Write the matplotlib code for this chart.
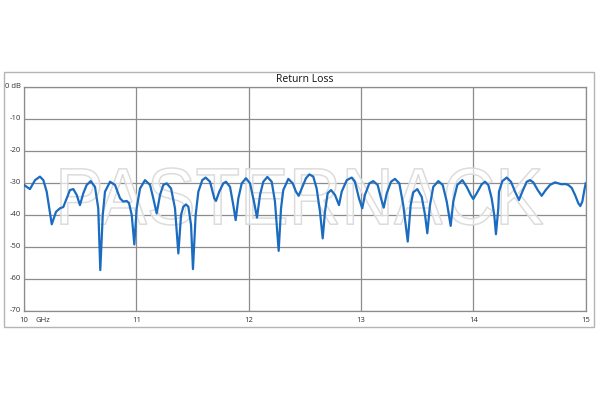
import matplotlib
matplotlib.use("Agg")
import matplotlib.pyplot as plt
from matplotlib.patches import Rectangle, PathPatch
from matplotlib.textpath import TextPath
from matplotlib.font_manager import FontProperties
from matplotlib.transforms import Affine2D, IdentityTransform

freq_ghz = [
    10.000, 10.053, 10.098, 10.142, 10.172, 10.202, 10.247, 10.285, 10.320, 10.350,
    10.380, 10.409, 10.439, 10.469, 10.498, 10.528, 10.558, 10.594, 10.632, 10.661,
    10.679, 10.701, 10.721, 10.766, 10.810, 10.855, 10.884, 10.914, 10.935, 10.959,
    10.982, 11.003, 11.033, 11.077, 11.122, 11.151, 11.181, 11.211, 11.240, 11.270,
    11.309, 11.344, 11.374, 11.398, 11.418, 11.442, 11.463, 11.487, 11.504, 11.528,
    11.552, 11.587, 11.617, 11.656, 11.694, 11.709, 11.738, 11.774, 11.798, 11.834,
    11.863, 11.884, 11.908, 11.938, 11.976, 12.012, 12.047, 12.074, 12.101, 12.130,
    12.166, 12.205, 12.234, 12.267, 12.288, 12.308, 12.353, 12.392, 12.421, 12.445,
    12.472, 12.510, 12.540, 12.575, 12.605, 12.635, 12.659, 12.679, 12.703, 12.733,
    12.768, 12.804, 12.828, 12.873, 12.917, 12.946, 12.982, 13.011, 13.035, 13.074,
    13.109, 13.148, 13.178, 13.202, 13.229, 13.267, 13.302, 13.341, 13.376, 13.416,
    13.442, 13.465, 13.501, 13.540, 13.570, 13.590, 13.614, 13.643, 13.688, 13.727,
    13.763, 13.798, 13.821, 13.857, 13.902, 13.941, 13.976, 13.999, 14.030, 14.074,
    14.104, 14.133, 14.163, 14.186, 14.201, 14.222, 14.228, 14.258, 14.297, 14.335,
    14.371, 14.406, 14.436, 14.475, 14.504, 14.534, 14.573, 14.608, 14.644, 14.682,
    14.727, 14.756, 14.786, 14.816, 14.845, 14.875, 14.905, 14.934, 14.952, 14.970,
    14.988, 15.000,
]
return_loss_db = [
    -30.7, -32.0, -29.2, -28.1, -29.2, -32.8, -43.0, -39.1, -38.0, -37.6,
    -34.9, -32.3, -32.0, -33.8, -37.0, -33.3, -30.7, -29.5, -31.3, -38.0,
    -57.3, -40.1, -32.8, -29.7, -30.7, -34.9, -35.9, -35.7, -36.4, -40.1,
    -49.3, -38.0, -31.8, -29.2, -30.7, -34.9, -39.6, -33.8, -30.7, -30.2,
    -31.8, -38.0, -52.1, -40.1, -37.5, -36.8, -37.5, -43.2, -57.0, -40.1,
    -32.8, -29.2, -28.4, -29.7, -34.9, -35.7, -32.8, -30.2, -29.7, -31.3,
    -37.0, -41.7, -34.9, -30.2, -28.6, -30.2, -35.9, -40.9, -33.8, -29.7,
    -28.2, -29.7, -35.9, -51.3, -38.0, -32.3, -28.8, -30.2, -32.8, -34.1,
    -31.8, -28.6, -27.4, -28.1, -31.8, -39.1, -47.4, -39.1, -33.3, -32.3,
    -33.8, -37.0, -32.8, -29.2, -28.4, -29.7, -34.9, -38.0, -33.8, -30.2,
    -29.5, -30.7, -34.9, -37.8, -33.3, -29.7, -28.8, -30.2, -37.0, -48.4,
    -37.0, -33.0, -32.0, -34.4, -40.1, -45.8, -37.0, -31.3, -29.5, -30.7,
    -35.9, -43.5, -35.9, -30.7, -29.2, -31.3, -33.8, -35.1, -33.3, -30.5,
    -29.7, -30.7, -34.9, -40.1, -46.1, -38.0, -32.8, -29.5, -28.4, -29.7,
    -32.8, -35.4, -32.8, -29.7, -29.2, -29.9, -32.3, -34.1, -32.3, -30.7,
    -29.9, -30.2, -30.5, -30.4, -30.7, -31.6, -33.8, -36.4, -37.3, -35.9,
    -32.3, -30.2,
]
x_ticks = [10, 11, 12, 13, 14, 15]
x_tick_labels = ["10", "11", "12", "13", "14", "15"]
y_ticks = [0, -10, -20, -30, -40, -50, -60, -70]
y_tick_labels = ["0 dB", "-10", "-20", "-30", "-40", "-50", "-60", "-70"]
title = "Return Loss"
watermark = "PASTERNACK"

W, H = 600, 400
fig = plt.figure(figsize=(6, 4), dpi=100)
fig.patch.set_facecolor("white")

# outer frame
fig.patches.append(Rectangle((4 / W, 1 - 327 / H), 590 / W, 255 / H,
                             transform=fig.transFigure, fill=False,
                             edgecolor="#b4b4b4", linewidth=1.0))

ax = fig.add_axes([24 / W, 1 - 310.7 / H, 561.7 / W, 224 / H])
ax.set_xlim(10, 15)
ax.set_ylim(-70, 0)
ax.set_xticks(x_ticks)
ax.set_xticklabels([])
ax.set_yticks(y_ticks)
ax.set_yticklabels([])
ax.tick_params(length=0)
ax.set_axisbelow(True)
ax.grid(True, color="#8c8c8c", linewidth=0.9)
for s in ax.spines.values():
    s.set_color("#8c8c8c")
    s.set_linewidth(0.9)

lab_font = dict(fontsize=5.5, color="#333333", family="Open Sans")
for v, t in zip(y_ticks, y_tick_labels):
    ax.text(-0.006, v, t, transform=ax.get_yaxis_transform(), ha="right",
            va="center", **lab_font)
for v, t in zip(x_ticks, x_tick_labels):
    ax.text(v, -0.045, t, transform=ax.get_xaxis_transform(), ha="center",
            va="center", **lab_font)
ax.text(10.105, -0.045, "GHz", transform=ax.get_xaxis_transform(), ha="left",
        va="center", **lab_font)

fig.text(305 / W, 1 - 80 / H, title, ha="center", va="center",
         fontsize=7.5, color="#111111", family="Open Sans")

# watermark (display-pixel placement, behind the curve)
fp = FontProperties(family="Liberation Sans")
tp = TextPath((0, 0), watermark, size=10, prop=fp)
ext = tp.get_extents()
x0, x1 = 61, 543
y0, y1 = 168, 225
sx = (x1 - x0) / ext.width
sy = (y1 - y0) / ext.height
tr = (Affine2D().translate(-ext.x0, -ext.y0).scale(sx, sy)
      .translate(x0, H - y1))
path = tr.transform_path(tp)
wm = PathPatch(path, facecolor=(1, 1, 1, 0.65), edgecolor="#dcdcdc",
               linewidth=1.1, transform=IdentityTransform(), zorder=1.5,
               clip_on=False)
ax.add_artist(wm)

ax.plot(freq_ghz, return_loss_db, color="#1b6cc0", linewidth=1.6,
        zorder=3, solid_joinstyle="round")

fig.savefig("out.png", dpi=100, facecolor="white")
